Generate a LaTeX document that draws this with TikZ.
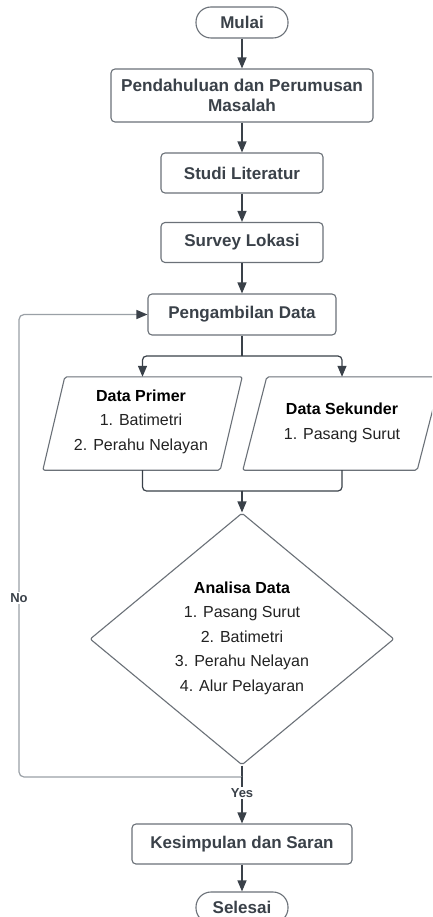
\documentclass[tikz,border=0pt]{standalone}
\usepackage{fontspec}
\setmainfont{Liberation Sans}
\usetikzlibrary{arrows.meta,shapes.geometric,calc}
\definecolor{ink}{HTML}{3A4149}
\definecolor{edge}{HTML}{6B7178}
\definecolor{loopc}{HTML}{9AA0A6}
\definecolor{txt}{HTML}{222222}
\begin{document}
\begin{tikzpicture}[x=1pt,y=-1pt,
  box/.style={draw=edge, line width=1.1pt, rounded corners=4pt, fill=white, text=ink,
    font=\bfseries\fontsize{17}{20}\selectfont, align=center, inner sep=0pt},
  term/.style={box, rounded corners=15pt},
  arr/.style={draw=ink, line width=1.2pt, -{Triangle[length=11pt,width=9pt]}},
  conn/.style={draw=ink, line width=1.2pt, rounded corners=4pt},
  loopline/.style={draw=loopc, line width=1.2pt, rounded corners=5pt, -{Triangle[length=11pt,width=9pt,color=ink]}},
  pshape/.style={draw=edge, line width=1.1pt, rounded corners=2pt, fill=white},
  ghost/.style={inner sep=0pt},
  listtext/.style={align=center, text=txt, font=\fontsize{16}{24.5}\selectfont, inner sep=0pt},
  lab/.style={fill=white, text=ink, font=\bfseries\fontsize{13}{15}\selectfont, inner sep=1.5pt}]
\useasboundingbox (0,0) rectangle (432,917);
\clip (0,0) rectangle (432,917);
\fill[white] (0,0) rectangle (432,917);

% nodes
\node[term, minimum width=92pt, minimum height=31pt] (mulai) at (242,22.5) {Mulai};
\node[box, minimum width=262pt, minimum height=53pt, font=\bfseries\fontsize{17.2}{20}\selectfont] (pend) at (242,95.5) {Pendahuluan dan Perumusan\\Masalah};
\node[box, minimum width=162pt, minimum height=40pt] (studi) at (242,173) {Studi Literatur};
\node[box, minimum width=162pt, minimum height=40pt] (survey) at (242,242.5) {Survey Lokasi};
\node[box, minimum width=188pt, minimum height=41pt] (peng) at (242,314.5) {Pengambilan Data};

\node[ghost, minimum width=199pt, minimum height=93pt] (dp) at (142.5,423.5) {};
\draw[pshape] ($(dp.north west)+(22,0)$) -- (dp.north east) -- ($(dp.south east)+(-22,0)$) -- (dp.south west) -- cycle;
\node[listtext] (dpt) at (141,421.5) {\textbf{\color{black}Data Primer}\\1. Batimetri\\2. Perahu Nelayan};

\node[ghost, minimum width=198pt, minimum height=93pt] (ds) at (342,423.5) {};
\draw[pshape] ($(ds.north west)+(24,0)$) -- (ds.north east) -- ($(ds.south east)+(-24,0)$) -- (ds.south west) -- cycle;
\node[listtext] (dst) at (342,423) {\textbf{\color{black}Data Sekunder}\\1. Pasang Surut};

\node[diamond, draw=edge, line width=1.1pt, rounded corners=2pt, inner sep=0pt,
      minimum width=304pt, minimum height=252pt] (ana) at (242,639) {};
\node[listtext] (anat) at (242,638) {\textbf{\color{black}Analisa Data}\\1. Pasang Surut\\2. Batimetri\\3. Perahu Nelayan\\4. Alur Pelayaran};

\node[box, minimum width=220pt, minimum height=40pt] (kes) at (242,844) {Kesimpulan dan Saran};
\node[term, minimum width=92pt, minimum height=31pt] (sel) at (242,907.5) {Selesai};

% coordinates
\coordinate (split) at (242,356);
\coordinate (join) at (242,491);
\coordinate (turn) at (242,777);
\coordinate (lb) at (19,777);
\coordinate (lt) at (19,314.5);

% connectors
\draw[arr] (mulai) -- (pend);
\draw[arr] (pend) -- (studi);
\draw[arr] (studi) -- (survey);
\draw[arr] (survey) -- (peng);
\draw[conn] (peng.south) -- (split);
\draw[arr, rounded corners=4pt] (split) -| (dp.north);
\draw[arr, rounded corners=4pt] (split) -| (ds.north);
\draw[conn] (dp.south) |- (join);
\draw[conn] (ds.south) |- (join);
\draw[arr] (join) -- (ana.north);
\draw[conn] (ana.south) -- (turn);
\draw[loopline] (turn) -- (lb) -- (lt) -- (peng.west);
\node[lab] (no) at (19,598) {No};
\draw[arr] (turn) -- (kes.north);
\node[lab] (yes) at (242,793) {Yes};
\draw[arr] (kes) -- (sel);
\end{tikzpicture}
\end{document}
